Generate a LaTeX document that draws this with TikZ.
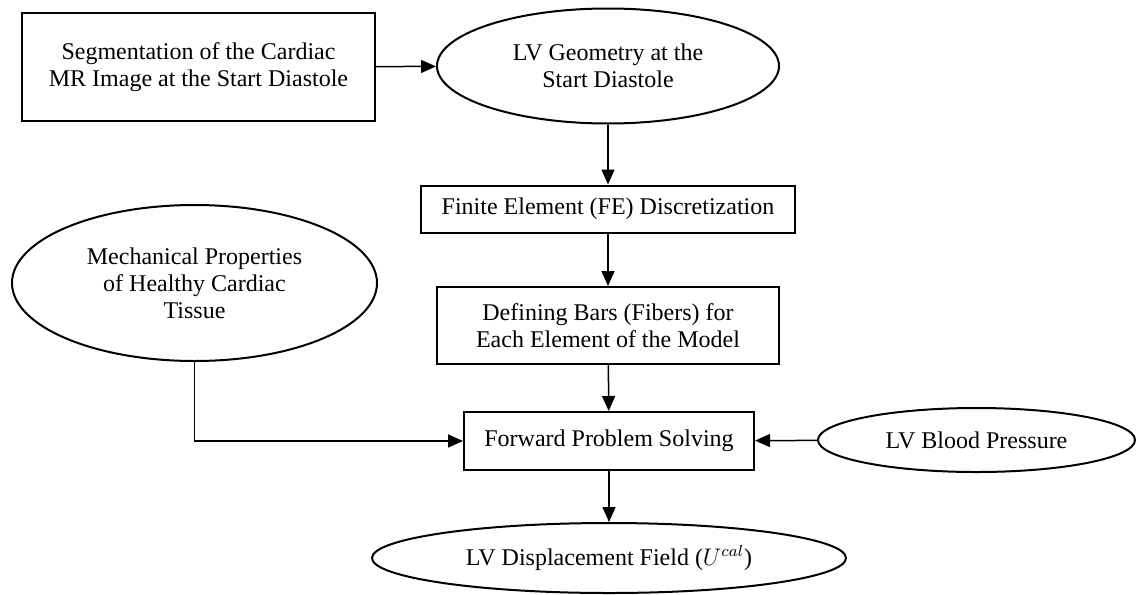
\documentclass[tikz,border=0pt]{standalone}
\usepackage{amsmath}
\usepackage{fontspec}
\setmainfont{Liberation Serif}
\usepackage{tikz}
\usetikzlibrary{
	arrows.meta,
	positioning,
	shapes.geometric
}

\begin{document}
\begin{tikzpicture}[x=0.5pt, y=-0.5pt,
		font=\fontsize{12}{13.5}\selectfont,
		procbox/.style={draw, line width=1pt, rectangle, align=center, inner sep=0pt},
		databox/.style={draw, line width=1pt, ellipse, align=center, inner sep=0pt},
		flow/.style={line width=0.75pt, -{Triangle[length=7.5pt, width=6.5pt]}}]
			\useasboundingbox (0,0) rectangle (1138,594);
			% boxes and ellipses
			\node[procbox, minimum width=176.5pt, minimum height=54pt] (seg) at (198.5,67) {Segmentation of the Cardiac\\MR Image at the Start Diastole};
			\node[databox, minimum width=171pt, minimum height=57.5pt] (geo) at (608,66) {LV Geometry at the\\Start Diastole};
			\node[procbox, minimum width=187pt, minimum height=23.5pt] (fe) at (608,209) {Finite Element (FE) Discretization};
			\node[procbox, minimum width=171pt, minimum height=38.5pt] (bars) at (608,325.5) {Defining Bars (Fibers) for\\Each Element of the Model};
			\node[databox, minimum width=182.5pt, minimum height=78pt] (mech) at (194.5,283) {Mechanical Properties\\of Healthy Cardiac\\Tissue};
			\node[procbox, minimum width=145pt, minimum height=29pt] (fwd) at (609,441) {Forward Problem Solving};
			\node[databox, minimum width=158.5pt, minimum height=32pt] (blood) at (976.5,440) {LV Blood Pressure};
			\node[databox, minimum width=237pt, minimum height=35pt] (disp) at (609,558) {LV Displacement Field ($U^{cal}$)};
			% arrows
			\draw[flow] (seg) -- (geo);
			\draw[flow] (geo) -- (fe);
			\draw[flow] (fe) -- (bars);
			\draw[flow] (bars) -- (fwd);
			\draw[flow] (mech.south) |- (fwd.west);
			\draw[flow] (blood) -- (fwd);
			\draw[flow] (fwd) -- (disp);
		\end{tikzpicture}
\end{document}
